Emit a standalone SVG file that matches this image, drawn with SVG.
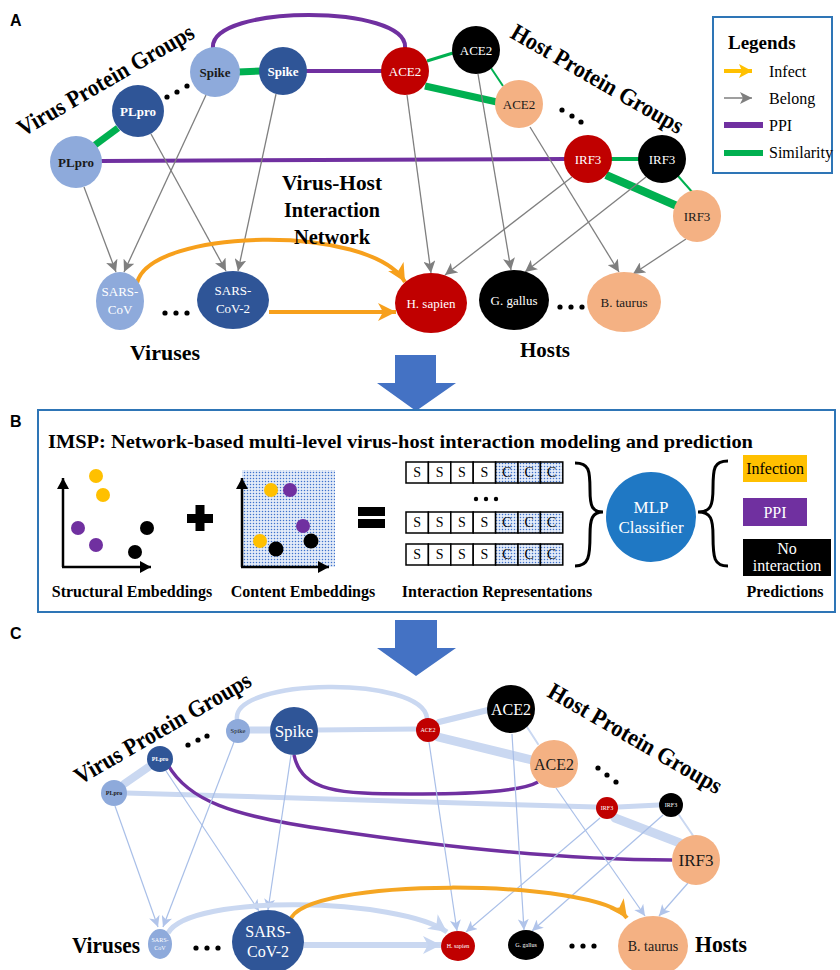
<svg xmlns="http://www.w3.org/2000/svg" width="840" height="970" viewBox="0 0 840 970">
<style>
.s{font-family:"Liberation Serif","Times New Roman",serif}
.b{font-weight:bold}
.lab{font-family:"Liberation Sans",Arial,sans-serif;font-weight:bold;font-size:16px}
.w{fill:#fff}
.k{fill:#1a1a1a}
.gray{stroke:#7f7f7f;stroke-width:1.3;fill:none}
.lb{stroke:#a9bfe8;stroke-width:1.2;fill:none}
.lbt{stroke:#cad8f1;fill:none;stroke-linecap:round}
.pur{stroke:#7030a0;fill:none}
.grn{stroke:#00b050;fill:none}
.tc{text-anchor:middle}
</style>
<defs>
<marker id="ag" markerUnits="userSpaceOnUse" markerWidth="14" markerHeight="12" refX="12" refY="6" orient="auto"><path d="M0,0 L12,6 L0,12 L3,6 Z" fill="#7f7f7f"/></marker>
<marker id="ao" markerUnits="userSpaceOnUse" markerWidth="20" markerHeight="18" refX="18" refY="9" orient="auto"><path d="M0,0 L18,9 L0,18 L5,9 Z" fill="#f7a01c"/></marker>
<marker id="ay" markerUnits="userSpaceOnUse" markerWidth="14" markerHeight="14" refX="13" refY="7" orient="auto"><path d="M0,0 L13,7 L0,14 L3,7 Z" fill="#ffc000"/></marker>
<marker id="al" markerUnits="userSpaceOnUse" markerWidth="12" markerHeight="11" refX="11" refY="5.5" orient="auto"><path d="M0,0 L11,5.5 L0,11 L3,5.5 Z" fill="#b1c4ea"/></marker>
<marker id="alb" markerUnits="userSpaceOnUse" markerWidth="20" markerHeight="18" refX="18" refY="9" orient="auto"><path d="M0,0 L18,9 L0,18 L5,9 Z" fill="#c6d5f0"/></marker>
<marker id="aoc" markerUnits="userSpaceOnUse" markerWidth="20" markerHeight="18" refX="18" refY="9" orient="auto"><path d="M0,0 L18,9 L0,18 L5,9 Z" fill="#f5a623"/></marker>
<marker id="ak" markerUnits="userSpaceOnUse" markerWidth="12" markerHeight="12" refX="11" refY="6" orient="auto"><path d="M0,0 L11,6 L0,12 Z" fill="#000"/></marker>
<pattern id="dots" width="3" height="3" patternUnits="userSpaceOnUse"><rect width="3" height="3" fill="#e3ebf8"/><circle cx="1.5" cy="1.5" r="0.75" fill="#3f72cc"/></pattern>
</defs>

<!-- Panel labels -->
<text class="lab" x="10" y="26">A</text>
<text class="lab" x="10" y="427">B</text>
<text class="lab" x="10" y="639">C</text>

<!-- ========== PANEL A connectors ========== -->
<g id="connectors-a">
<path class="pur" stroke-width="4" d="M213,48 C209,4 409,4 405,48"/>
<line class="pur" stroke-width="4" x1="305" y1="71" x2="383" y2="71"/>
<line class="pur" stroke-width="4" x1="100" y1="161" x2="566" y2="159"/>
<line class="grn" stroke-width="7" x1="238" y1="72" x2="261" y2="71"/>
<line class="grn" stroke-width="7" x1="95" y1="145" x2="118" y2="128"/>
<line class="grn" stroke-width="3" x1="427" y1="61" x2="453" y2="53"/>
<line class="grn" stroke-width="7" x1="425" y1="86" x2="497" y2="102"/>
<line class="grn" stroke-width="2" x1="491" y1="68" x2="503" y2="86"/>
<line class="grn" stroke-width="4" x1="611" y1="159" x2="639" y2="159"/>
<line class="grn" stroke-width="8" x1="606" y1="175" x2="677" y2="206"/>
<line class="grn" stroke-width="2" x1="678" y1="176" x2="693" y2="193"/>
<line class="gray" x1="84" y1="187" x2="116" y2="272" marker-end="url(#ag)"/>
<line class="gray" x1="206" y1="95" x2="124" y2="272" marker-end="url(#ag)"/>
<line class="gray" x1="151" y1="134" x2="226" y2="271" marker-end="url(#ag)"/>
<line class="gray" x1="276" y1="94" x2="238" y2="271" marker-end="url(#ag)"/>
<line class="gray" x1="407" y1="95" x2="431" y2="273" marker-end="url(#ag)"/>
<line class="gray" x1="572" y1="177" x2="445" y2="275" marker-end="url(#ag)"/>
<line class="gray" x1="478" y1="74" x2="511" y2="270" marker-end="url(#ag)"/>
<line class="gray" x1="646" y1="177" x2="525" y2="272" marker-end="url(#ag)"/>
<line class="gray" x1="530" y1="127" x2="619" y2="272" marker-end="url(#ag)"/>
<line class="gray" x1="686" y1="239" x2="633" y2="274" marker-end="url(#ag)"/>
<path d="M137,283 C150,228 370,223 405,282" stroke="#f7a01c" stroke-width="4" fill="none" marker-end="url(#ao)"/>
<line x1="269" y1="312" x2="396" y2="312" stroke="#f7a01c" stroke-width="4" marker-end="url(#ao)"/>
</g>

<!-- ========== PANEL A nodes ========== -->
<g id="a-plpro-light"><circle cx="76" cy="162" r="26" fill="#8eaadb"/><text class="s b k tc" x="76" y="167" font-size="13">PLpro</text></g>
<g id="a-plpro-dark"><circle cx="138" cy="111" r="26" fill="#2f5597"/><text class="s b w tc" x="138" y="116" font-size="13">PLpro</text></g>
<g id="a-spike-light"><circle cx="215" cy="72" r="25" fill="#8eaadb"/><text class="s b k tc" x="215" y="77" font-size="13">Spike</text></g>
<g id="a-spike-dark"><circle cx="283" cy="71" r="24" fill="#2f5597"/><text class="s b w tc" x="283" y="76" font-size="13">Spike</text></g>
<g id="a-ace2-red"><circle cx="405" cy="71" r="24" fill="#c00000"/><text class="s w tc" x="405" y="76" font-size="13">ACE2</text></g>
<g id="a-ace2-black"><circle cx="476" cy="50" r="24" fill="#000"/><text class="s w tc" x="476" y="55" font-size="13">ACE2</text></g>
<g id="a-ace2-orange"><circle cx="519" cy="104" r="24" fill="#f4b183"/><text class="s k tc" x="519" y="109" font-size="13">ACE2</text></g>
<g id="a-irf3-red"><circle cx="588" cy="159" r="24" fill="#c00000"/><text class="s w tc" x="588" y="164" font-size="13">IRF3</text></g>
<g id="a-irf3-black"><circle cx="662" cy="159" r="24" fill="#000"/><text class="s w tc" x="662" y="164" font-size="13">IRF3</text></g>
<g id="a-irf3-orange"><ellipse cx="697" cy="216" rx="24" ry="26" fill="#f4b183"/><text class="s k tc" x="697" y="221" font-size="13">IRF3</text></g>
<g id="a-sarscov"><ellipse cx="120" cy="301" rx="24" ry="29" fill="#8eaadb"/><text class="s w tc" font-size="13"><tspan x="120" y="296">SARS-</tspan><tspan x="120" y="314">CoV</tspan></text></g>
<g id="a-sarscov2"><ellipse cx="233" cy="300" rx="36" ry="29" fill="#2f5597"/><text class="s w tc" font-size="13"><tspan x="233" y="295">SARS-</tspan><tspan x="233" y="313">CoV-2</tspan></text></g>
<g id="a-hsapien"><ellipse cx="431" cy="303" rx="36" ry="30" fill="#c00000"/><text class="s w tc" x="431" y="308" font-size="13">H. sapien</text></g>
<g id="a-ggallus"><ellipse cx="514" cy="300" rx="35" ry="30" fill="#000"/><text class="s w tc" x="514" y="305" font-size="13">G. gallus</text></g>
<g id="a-btaurus"><ellipse cx="624" cy="302" rx="37" ry="30" fill="#f4b183"/><text class="s k tc" x="624" y="307" font-size="13">B. taurus</text></g>

<!-- Panel A texts -->
<g id="a-texts">
<text class="s b" font-size="24" textLength="200" lengthAdjust="spacingAndGlyphs" transform="translate(23,137) rotate(-30)">Virus Protein Groups</text>
<text class="s b" font-size="24" textLength="195" lengthAdjust="spacingAndGlyphs" transform="translate(509,37) rotate(30)">Host Protein Groups</text>
<text class="s b tc" font-size="22"><tspan x="332" y="190" textLength="100" lengthAdjust="spacingAndGlyphs">Virus-Host</tspan><tspan x="332" y="217" textLength="96" lengthAdjust="spacingAndGlyphs">Interaction</tspan><tspan x="332" y="244" textLength="76" lengthAdjust="spacingAndGlyphs">Network</tspan></text>
<text class="s b tc" font-size="22" x="165" y="360" textLength="70" lengthAdjust="spacingAndGlyphs">Viruses</text>
<text class="s b tc" font-size="22" x="545" y="357" textLength="50" lengthAdjust="spacingAndGlyphs">Hosts</text>
<g fill="#000"><circle cx="167" cy="97" r="2.6"/><circle cx="177" cy="92" r="2.6"/><circle cx="187" cy="86" r="2.6"/>
<circle cx="562" cy="110" r="2.6"/><circle cx="572" cy="116" r="2.6"/><circle cx="581" cy="122" r="2.6"/>
<circle cx="165" cy="313" r="2.6"/><circle cx="176" cy="313" r="2.6"/><circle cx="187" cy="313" r="2.6"/>
<circle cx="560" cy="307" r="2.6"/><circle cx="571" cy="307" r="2.6"/><circle cx="582" cy="307" r="2.6"/></g>
</g>

<!-- Legend -->
<g id="legend">
<rect x="713" y="17" width="119" height="156" fill="#fff" stroke="#2e75b6" stroke-width="2"/>
<text class="s b" x="728" y="49" font-size="19">Legends</text>
<line x1="724" y1="71" x2="752" y2="71" stroke="#ffc000" stroke-width="4" marker-end="url(#ay)"/>
<line x1="724" y1="98" x2="752" y2="98" stroke="#7f7f7f" stroke-width="1.5" marker-end="url(#ag)"/>
<rect x="724" y="122" width="39" height="6" fill="#7030a0"/>
<rect x="724" y="150" width="39" height="6" fill="#00b050"/>
<text class="s" font-size="16" x="769" y="77">Infect</text>
<text class="s" font-size="16" x="769" y="104">Belong</text>
<text class="s" font-size="16" x="769" y="131">PPI</text>
<text class="s" font-size="16" x="769" y="158">Similarity</text>
</g>

<!-- Block arrows -->
<g id="arrow-ab"><polygon points="395,355 436,355 436,383 456,383 416,411 377,383 395,383" fill="#4472c4"/></g>
<g id="arrow-bc"><polygon points="395,620 437,620 437,648 456,648 416,676 377,648 395,648" fill="#4472c4"/></g>

<!-- ========== PANEL B ========== -->
<g id="panel-b">
<rect x="38" y="410" width="797" height="202" fill="#fff" stroke="#2e75b6" stroke-width="2"/>
<text class="s b" font-size="19" x="48" y="448" textLength="705" lengthAdjust="spacingAndGlyphs">IMSP: Network-based multi-level virus-host interaction modeling and prediction</text>
</g>
<g id="structural-embeddings">
<line x1="63" y1="567" x2="63" y2="478" stroke="#000" stroke-width="2.5" marker-end="url(#ak)"/>
<line x1="62" y1="567" x2="151" y2="567" stroke="#000" stroke-width="2.5" marker-end="url(#ak)"/>
<circle cx="96" cy="476" r="7" fill="#ffc000"/><circle cx="103" cy="495" r="7" fill="#ffc000"/>
<circle cx="78" cy="528" r="7" fill="#7030a0"/><circle cx="96" cy="545" r="7" fill="#7030a0"/>
<circle cx="147" cy="528" r="7" fill="#000"/><circle cx="135" cy="552" r="7" fill="#000"/>
<text class="s b tc" font-size="16" x="132" y="597">Structural Embeddings</text>
</g>
<g id="plus"><rect x="187" y="514" width="26" height="9" fill="#000"/><rect x="195.5" y="505" width="9" height="26" fill="#000"/></g>
<g id="content-embeddings">
<rect x="242" y="470" width="93" height="97" fill="url(#dots)"/>
<line x1="242" y1="567" x2="242" y2="478" stroke="#000" stroke-width="2.5" marker-end="url(#ak)"/>
<line x1="241" y1="567" x2="329" y2="567" stroke="#000" stroke-width="2.5" marker-end="url(#ak)"/>
<circle cx="271" cy="490" r="7" fill="#ffc000"/><circle cx="290" cy="490" r="7" fill="#7030a0"/>
<circle cx="303" cy="526" r="7" fill="#7030a0"/><circle cx="260" cy="541" r="7" fill="#ffc000"/>
<circle cx="276" cy="549" r="7.5" fill="#000"/><circle cx="311" cy="541" r="7.5" fill="#000"/>
<text class="s b tc" font-size="16" x="303" y="597">Content Embeddings</text>
</g>
<g id="equals"><rect x="358" y="507" width="27" height="9" fill="#000"/><rect x="358" y="519" width="27" height="9" fill="#000"/></g>
<g id="interaction-representations" font-size="14">
<g stroke="#000" stroke-width="1.5">
<rect x="406" y="462" width="22.4" height="21" fill="#fff"/><rect x="428.4" y="462" width="22.4" height="21" fill="#fff"/><rect x="450.8" y="462" width="22.4" height="21" fill="#fff"/><rect x="473.2" y="462" width="22.4" height="21" fill="#fff"/><rect x="495.6" y="462" width="22.4" height="21" fill="url(#dots)"/><rect x="518" y="462" width="22.4" height="21" fill="url(#dots)"/><rect x="540.4" y="462" width="22.4" height="21" fill="url(#dots)"/>
<rect x="406" y="512" width="22.4" height="21" fill="#fff"/><rect x="428.4" y="512" width="22.4" height="21" fill="#fff"/><rect x="450.8" y="512" width="22.4" height="21" fill="#fff"/><rect x="473.2" y="512" width="22.4" height="21" fill="#fff"/><rect x="495.6" y="512" width="22.4" height="21" fill="url(#dots)"/><rect x="518" y="512" width="22.4" height="21" fill="url(#dots)"/><rect x="540.4" y="512" width="22.4" height="21" fill="url(#dots)"/>
<rect x="406" y="544" width="22.4" height="21" fill="#fff"/><rect x="428.4" y="544" width="22.4" height="21" fill="#fff"/><rect x="450.8" y="544" width="22.4" height="21" fill="#fff"/><rect x="473.2" y="544" width="22.4" height="21" fill="#fff"/><rect x="495.6" y="544" width="22.4" height="21" fill="url(#dots)"/><rect x="518" y="544" width="22.4" height="21" fill="url(#dots)"/><rect x="540.4" y="544" width="22.4" height="21" fill="url(#dots)"/>
</g>
<g class="s tc" fill="#000">
<text x="417.2" y="477">S</text><text x="439.6" y="477">S</text><text x="462" y="477">S</text><text x="484.4" y="477">S</text><text x="506.8" y="477">C</text><text x="529.2" y="477">C</text><text x="551.6" y="477">C</text>
<text x="417.2" y="527">S</text><text x="439.6" y="527">S</text><text x="462" y="527">S</text><text x="484.4" y="527">S</text><text x="506.8" y="527">C</text><text x="529.2" y="527">C</text><text x="551.6" y="527">C</text>
<text x="417.2" y="559">S</text><text x="439.6" y="559">S</text><text x="462" y="559">S</text><text x="484.4" y="559">S</text><text x="506.8" y="559">C</text><text x="529.2" y="559">C</text><text x="551.6" y="559">C</text>
</g>
<circle cx="476" cy="499" r="2.2"/><circle cx="486" cy="499" r="2.2"/><circle cx="496" cy="499" r="2.2"/>
<text class="s b tc" font-size="16" x="497" y="597">Interaction Representations</text>
</g>
<g id="brace-left"><path d="M575,463 C589,463 590,470 590,490 C590,506 592,512 603,512 C592,512 590,519 590,535 C590,556 589,566 575,566" stroke="#000" stroke-width="3" fill="none"/></g>
<g id="mlp-classifier"><circle cx="651" cy="517" r="45" fill="#1f78c4"/><text class="s w tc" font-size="17"><tspan x="651" y="513">MLP</tspan><tspan x="651" y="533">Classifier</tspan></text></g>
<g id="brace-right"><path d="M728,461 C714,461 713,468 713,488 C713,505 711,512 698,512 C711,512 713,519 713,536 C713,558 714,566 728,566" stroke="#000" stroke-width="3" fill="none"/></g>
<g id="pred-infection"><rect x="743" y="455" width="64" height="27" fill="#ffc000"/><text class="s tc" font-size="16" x="775" y="474">Infection</text></g>
<g id="pred-ppi"><rect x="743" y="498" width="64" height="28" fill="#7030a0"/><text class="s w tc" font-size="16" x="775" y="518">PPI</text></g>
<g id="pred-none"><rect x="743" y="539" width="88" height="37" fill="#000"/><text class="s w tc" font-size="16"><tspan x="787" y="554">No</tspan><tspan x="787" y="571">interaction</tspan></text></g>
<text class="s b tc" font-size="16" x="785" y="597">Predictions</text>

<!-- ========== PANEL C connectors ========== -->
<g id="connectors-c">
<path class="lbt" stroke-width="4.5" d="M237,719 C232,678 422,675 427,718"/>
<line class="lbt" stroke-width="7" x1="248" y1="730" x2="272" y2="730"/>
<line class="lbt" stroke-width="5" x1="318" y1="730" x2="416" y2="729"/>
<line class="lbt" stroke-width="8" x1="124" y1="784" x2="150" y2="766"/>
<line class="lbt" stroke-width="5" x1="126" y1="793" x2="596" y2="807"/>
<line class="lbt" stroke-width="6" x1="439" y1="722" x2="488" y2="710"/>
<line class="lbt" stroke-width="9" x1="438" y1="737" x2="532" y2="760"/>
<line class="lbt" stroke-width="2" x1="527" y1="727" x2="538" y2="744"/>
<line class="lbt" stroke-width="5" x1="618" y1="807" x2="659" y2="805"/>
<line class="lbt" stroke-width="9" x1="615" y1="818" x2="680" y2="843"/>
<line class="lbt" stroke-width="2" x1="679" y1="815" x2="694" y2="837"/>
<path class="pur" stroke-width="3.5" d="M294,755 C302,792 340,794 410,794 C470,794 520,792 538,782"/>
<path class="pur" stroke-width="3.5" d="M168,765 C188,800 230,816 330,830 C430,845 560,860 672,860"/>
<line class="lb" x1="115" y1="806" x2="158" y2="927" marker-end="url(#al)"/>
<line class="lb" x1="234" y1="742" x2="163" y2="927" marker-end="url(#al)"/>
<line class="lb" x1="166" y1="771" x2="259" y2="911" marker-end="url(#al)"/>
<line class="lb" x1="291" y1="755" x2="268" y2="910" marker-end="url(#al)"/>
<line class="lb" x1="429" y1="742" x2="457" y2="931" marker-end="url(#al)"/>
<line class="lb" x1="600" y1="818" x2="466" y2="932" marker-end="url(#al)"/>
<line class="lb" x1="512" y1="734" x2="524" y2="930" marker-end="url(#al)"/>
<line class="lb" x1="663" y1="815" x2="532" y2="931" marker-end="url(#al)"/>
<line class="lb" x1="556" y1="788" x2="645" y2="916" marker-end="url(#al)"/>
<line class="lb" x1="688" y1="883" x2="659" y2="916" marker-end="url(#al)"/>
<path d="M168,933 C190,893 400,898 447,932" stroke="#cad8f1" stroke-width="5" fill="none" marker-end="url(#alb)"/>
<line x1="304" y1="945" x2="441" y2="945" stroke="#cad8f1" stroke-width="6" marker-end="url(#alb)"/>
<path d="M290,921 C300,876 598,878 627,918" stroke="#f5a623" stroke-width="4" fill="none" marker-end="url(#aoc)"/>
</g>

<!-- ========== PANEL C nodes ========== -->
<g id="c-plpro-light"><circle cx="114" cy="793" r="13" fill="#8eaadb"/><text class="s b k tc" x="114" y="795" font-size="6">PLpro</text></g>
<g id="c-plpro-dark"><circle cx="160" cy="759" r="13" fill="#2f5597"/><text class="s b w tc" x="160" y="761" font-size="6">PLpro</text></g>
<g id="c-spike-light"><circle cx="238" cy="731" r="12" fill="#8eaadb"/><text class="s k tc" x="238" y="733" font-size="6.5">Spike</text></g>
<g id="c-spike-dark"><circle cx="294" cy="731" r="24" fill="#2f5597"/><text class="s w tc" x="294" y="737" font-size="17">Spike</text></g>
<g id="c-ace2-red"><circle cx="428" cy="730" r="12" fill="#c00000"/><text class="s w tc" x="428" y="732" font-size="6">ACE2</text></g>
<g id="c-ace2-black"><circle cx="511" cy="709" r="24" fill="#000"/><text class="s w tc" x="511" y="715" font-size="16">ACE2</text></g>
<g id="c-ace2-orange"><circle cx="554" cy="764" r="24" fill="#f4b183"/><text class="s k tc" x="554" y="770" font-size="16">ACE2</text></g>
<g id="c-irf3-red"><circle cx="607" cy="808" r="11" fill="#c00000"/><text class="s w tc" x="607" y="810" font-size="6">IRF3</text></g>
<g id="c-irf3-black"><circle cx="671" cy="805" r="12" fill="#000"/><text class="s w tc" x="671" y="807" font-size="6">IRF3</text></g>
<g id="c-irf3-orange"><ellipse cx="696" cy="860" rx="24" ry="25" fill="#f4b183"/><text class="s k tc" x="696" y="866" font-size="17">IRF3</text></g>
<g id="c-sarscov"><ellipse cx="160" cy="944" rx="12" ry="15" fill="#8eaadb"/><text class="s w tc" font-size="6"><tspan x="160" y="942">SARS-</tspan><tspan x="160" y="950">CoV</tspan></text></g>
<g id="c-sarscov2"><ellipse cx="268" cy="942" rx="36" ry="32" fill="#2f5597"/><text class="s w tc" font-size="16"><tspan x="268" y="937">SARS-</tspan><tspan x="268" y="957">CoV-2</tspan></text></g>
<g id="c-hsapien"><ellipse cx="458" cy="946" rx="17" ry="15" fill="#c00000"/><text class="s w tc" x="458" y="948" font-size="6">H. sapien</text></g>
<g id="c-ggallus"><ellipse cx="526" cy="945" rx="18" ry="15" fill="#000"/><text class="s w tc" x="526" y="947" font-size="6">G. gallus</text></g>
<g id="c-btaurus"><ellipse cx="653" cy="946" rx="35" ry="30" fill="#f4b183"/><text class="s k tc" x="653" y="951" font-size="14">B. taurus</text></g>

<!-- Panel C texts -->
<g id="c-texts">
<text class="s b" font-size="24" textLength="200" lengthAdjust="spacingAndGlyphs" transform="translate(80,785) rotate(-30)">Virus Protein Groups</text>
<text class="s b" font-size="24" textLength="197" lengthAdjust="spacingAndGlyphs" transform="translate(546,696) rotate(30)">Host Protein Groups</text>
<text class="s b" font-size="23" x="72" y="953" textLength="68" lengthAdjust="spacingAndGlyphs">Viruses</text>
<text class="s b" font-size="23" x="695" y="952" textLength="52" lengthAdjust="spacingAndGlyphs">Hosts</text>
<g fill="#000"><circle cx="188" cy="745" r="2.6"/><circle cx="198" cy="740" r="2.6"/><circle cx="207" cy="736" r="2.6"/>
<circle cx="598" cy="768" r="2.6"/><circle cx="607" cy="775" r="2.6"/><circle cx="616" cy="782" r="2.6"/>
<circle cx="196" cy="948" r="2.6"/><circle cx="207" cy="948" r="2.6"/><circle cx="218" cy="948" r="2.6"/>
<circle cx="572" cy="946" r="2.6"/><circle cx="583" cy="946" r="2.6"/><circle cx="594" cy="946" r="2.6"/></g>
</g>
</svg>
